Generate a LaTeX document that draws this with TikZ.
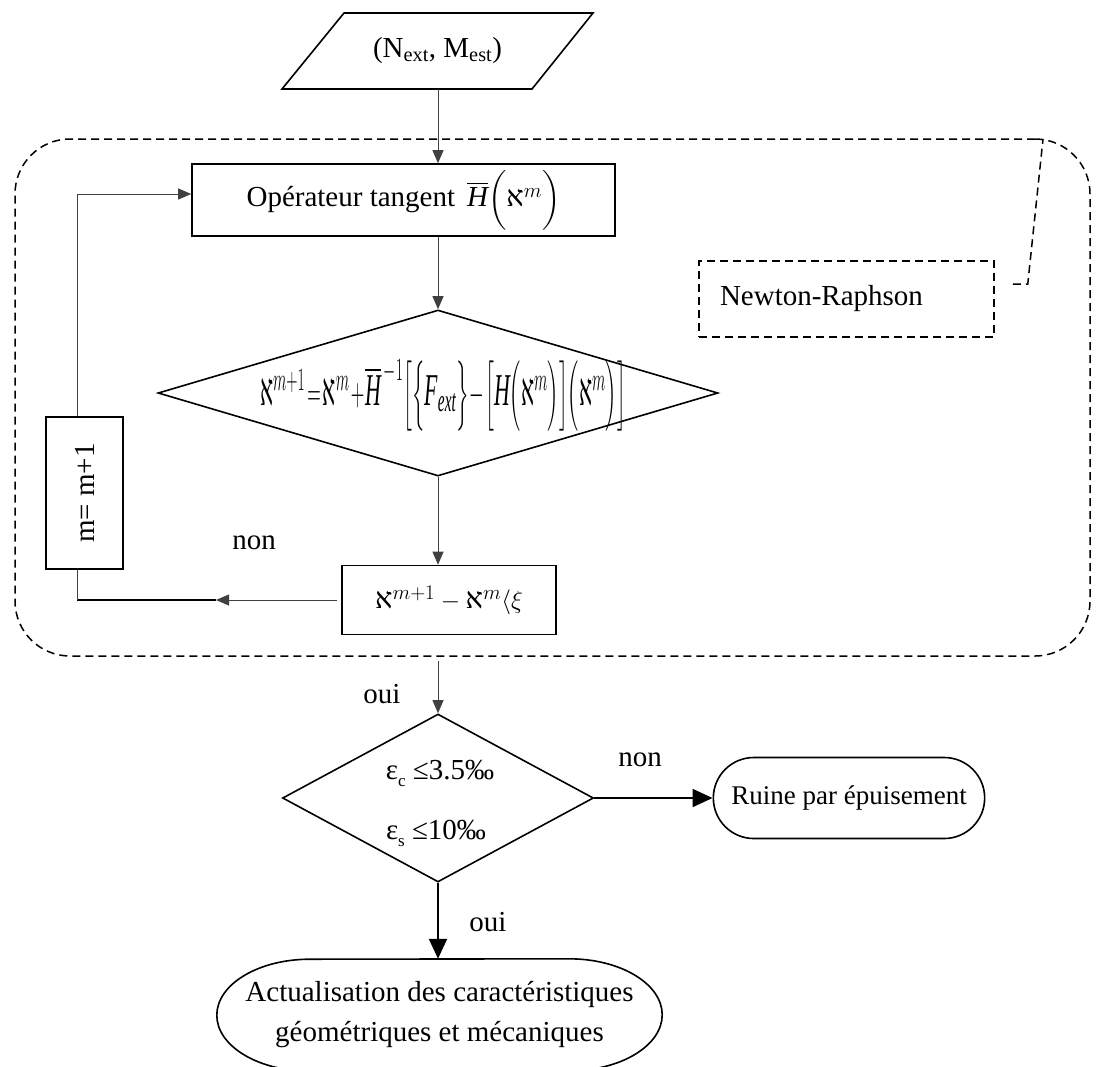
\documentclass[tikz,border=0pt]{standalone}
\usepackage{amsmath}
\usepackage{graphicx}
\usepackage{fontspec}
\setmainfont{Liberation Serif}
\newfontfamily\hebfont{Liberation Serif}
\usetikzlibrary{shapes.geometric,shapes.misc,arrows.meta,calc}
\newcommand{\alf}{\mbox{\hebfont א}}
\newcommand{\sbs}[1]{\raisebox{-7pt}{\fontsize{17}{17}\selectfont #1}}
\begin{document}
\begin{tikzpicture}[x=1pt,y=-1pt,
  every node/.style={font=\fontsize{29}{34}\selectfont},
  box/.style={draw, line width=1.6pt, inner sep=0pt},
  conn/.style={line width=0.9pt, draw=black!75},
  tip/.style={-{Triangle[length=13pt,width=11pt]}},
  bigtip/.style={-{Triangle[length=20pt,width=18pt]}},
  dsh/.style={dash pattern=on 8pt off 5pt, line width=1.5pt},
]
\clip (0,0) rectangle (1099,1066);
% input parallelogram
\node (inp) at (437.5,51) {(N\textsubscript{ext}, M\textsubscript{est})};
\draw[line width=1.6pt] (282,89) -- (344,13) -- (593,13) -- (532,89) -- cycle;
\coordinate (inpb) at (438,89);
% Newton-Raphson region
\node[draw, dsh, rounded corners=55pt, minimum width=1075pt, minimum height=517pt, inner sep=0pt] (nr) at (552.5,397.5) {};
% operator box
\node[box, minimum width=423pt, minimum height=72pt] (op) at (403.5,200)
  {Opérateur tangent \,$\overline{\mathit{H}}\bigg(\alf^{m}\bigg)$};
% diamond 1
\node[diamond, draw, line width=1.6pt, minimum width=560pt, minimum height=166pt, inner sep=0pt, shape aspect=3.37] (d1) at (438,393) {};
\node (f1) at (443,395)
  {\resizebox{366pt}{46pt}{$\alf^{m+1}\!=\!\alf^{m}\!+\!\overline{\mathit{H}}^{\,-1}\Big[\Big\{\mathit{F}_{\mathit{ext}}\Big\}\!-\!\Big[\mathit{H}\Big(\alf^{m}\Big)\Big]\Big(\alf^{m}\Big)\Big]$}};
% xi box
\node[box, minimum width=214pt, minimum height=69pt] (xi) at (449,600)
  {$\alf^{m+1}-\alf^{m}\langle\xi$};
% m box
\node[box, minimum width=77pt, minimum height=152pt] (mb) at (84.5,493) {\rotatebox{90}{m= m+1}};
% Newton box
\node[draw, dsh, minimum width=295pt, minimum height=76pt, text width=253pt, inner sep=21pt, align=left] (nb) at (846.5,299) {Newton-Raphson};
\draw[dsh] ($(nb.east)+(18,-15)$) -- ++(15,0) -- (1043,139);
% connectors inside
\draw[conn,tip] (inpb) -- (op.north -| inpb);
\draw[conn,tip] (op.south -| d1.north) -- (d1.north);
\draw[conn,tip] (d1.south) -- (d1.south |- xi.north);
\coordinate (lp) at (77,600);
\coordinate (la) at (216,600);
\draw[conn,tip] ($(xi.west)+(-4,0)$) -- (la);
\draw[line width=1.8pt] (la) -- (lp);
\draw[conn] (lp) -- (lp |- mb.south);
\draw[conn,tip] (lp |- mb.north) |- ($(op.west)+(0,-6)$);
\node (non1) at (254,543) {non};
% diamond 2
\node[diamond, draw, line width=1.6pt, minimum width=311pt, minimum height=168pt, inner sep=0pt, shape aspect=1.85] (d2) at (438,798) {};
\node (t1) at (440,773) {ε\sbs{c} ≤3.5‰};
\node (t2) at (436,833) {ε\sbs{s} ≤10‰};
\draw[conn,tip] ($(nr.south -| d2.north)+(0,4)$) -- (d2.north);
\node (oui1) at (382,694) {oui};
% Ruine
\node[rounded rectangle, draw, line width=1.6pt, minimum width=278pt, minimum height=81pt, font=\fontsize{27}{32}\selectfont] (ru) at (849,798) {Ruine par épuisement};
\draw[line width=2pt, bigtip] (d2.east) -- (ru.west);
\node (non2) at (640,760) {non};
% Actualisation
\node[align=center, minimum width=445pt, minimum height=112pt, font=\fontsize{29}{40}\selectfont] (act) at (439.5,1015)
  {Actualisation des caractéristiques\\géométriques et mécaniques};
\draw[line width=1.6pt] ($(act.north east)+(-93,0)$) arc[start angle=-90, end angle=90, x radius=93, y radius=56]
  -- ($(act.south west)+(93,0)$) arc[start angle=90, end angle=270, x radius=93, y radius=56] -- cycle;
\draw[line width=2pt, bigtip] (d2.south) -- (d2.south |- act.north);
\node (oui2) at (488,922) {oui};
\end{tikzpicture}
\end{document}
